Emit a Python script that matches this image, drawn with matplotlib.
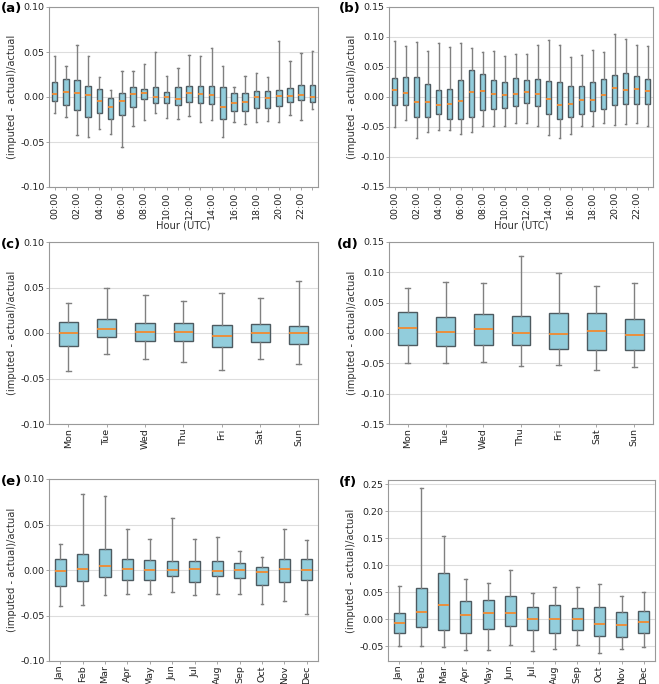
import numpy as np
import matplotlib.pyplot as plt

# box statistics: low whisker, q1, median, q3, high whisker
hours = ["%02d:00" % h for h in range(24)]
days = ["Mon", "Tue", "Wed", "Thu", "Fri", "Sat", "Sun"]
months = ["Jan", "Feb", "Mar", "Apr", "May", "Jun", "Jul", "Aug", "Sep", "Oct", "Nov", "Dec"]

a_lo = [-0.018, -0.022, -0.042, -0.044, -0.035, -0.0406, -0.056, -0.0325, -0.025, -0.0173, -0.023, -0.0247,
        -0.0207, -0.028, -0.026, -0.044, -0.028, -0.030, -0.028, -0.027, -0.028, -0.020, -0.025, -0.0137]
a_q1 = [-0.0044, -0.009, -0.014, -0.022, -0.0177, -0.024, -0.0196, -0.011, -0.0022, -0.0063, -0.0063, -0.0085,
        -0.005, -0.007, -0.008, -0.024, -0.016, -0.015, -0.012, -0.012, -0.0096, -0.005, -0.003, -0.006]
a_med = [0.003, 0.006, 0.004, 0.0026, -0.0044, -0.0107, -0.0044, 0.003, 0.004, 0.0004, 0.0, -0.0018,
         0.004, 0.003, 0.0018, -0.0107, -0.0063, -0.0055, 0.0004, -0.001, 0.001, 0.001, 0.0022, 0.0004]
a_q3 = [0.0166, 0.020, 0.019, 0.0125, 0.0085, -0.0015, 0.005, 0.0114, 0.009, 0.0107, 0.006, 0.011,
        0.0125, 0.012, 0.0125, 0.0114, 0.0048, 0.005, 0.007, 0.0066, 0.008, 0.010, 0.0137, 0.0137]
a_hi = [0.046, 0.034, 0.058, 0.046, 0.022, 0.008, 0.029, 0.029, 0.037, 0.050, 0.0236, 0.0325,
        0.047, 0.046, 0.0546, 0.035, 0.011, 0.0236, 0.027, 0.022, 0.062, 0.040, 0.049, 0.051]

b_lo = [-0.050, -0.038, -0.069, -0.059, -0.055, -0.055, -0.062, -0.058, -0.0476, -0.049, -0.0476, -0.044,
        -0.043, -0.0487, -0.063, -0.069, -0.062, -0.049, -0.049, -0.044, -0.047, -0.045, -0.0437, -0.049]
b_q1 = [-0.0138, -0.0127, -0.033, -0.034, -0.028, -0.037, -0.036, -0.0327, -0.022, -0.0205, -0.0177, -0.0144,
        -0.0094, -0.0155, -0.0277, -0.037, -0.033, -0.0277, -0.024, -0.0205, -0.0133, -0.012, -0.012, -0.0116]
b_med = [0.0116, 0.007, -0.0078, -0.0089, -0.0127, -0.012, -0.006, 0.0078, 0.0105, 0.005, 0.0039, 0.0055,
         0.0083, 0.0044, -0.0028, -0.0127, -0.011, -0.005, -0.005, 0.0033, 0.0144, 0.0116, 0.0133, 0.0105]
b_q3 = [0.032, 0.034, 0.034, 0.022, 0.012, 0.013, 0.028, 0.045, 0.039, 0.029, 0.0255, 0.031,
        0.028, 0.030, 0.027, 0.0255, 0.0177, 0.018, 0.0255, 0.030, 0.0365, 0.040, 0.0354, 0.030]
b_hi = [0.094, 0.085, 0.092, 0.077, 0.090, 0.084, 0.090, 0.082, 0.075, 0.077, 0.0687, 0.0714,
        0.072, 0.086, 0.095, 0.086, 0.066, 0.070, 0.0786, 0.075, 0.105, 0.096, 0.087, 0.085]

c_lo = [-0.042, -0.023, -0.0287, -0.032, -0.0408, -0.0287, -0.034]
c_q1 = [-0.0143, -0.0044, -0.0092, -0.0088, -0.0158, -0.0099, -0.0118]
c_med = [-0.0004, 0.0044, 0.0007, 0.0011, -0.0033, 0.0, -0.0004]
c_q3 = [0.0118, 0.0154, 0.0107, 0.0107, 0.0085, 0.0099, 0.0077]
c_hi = [0.0327, 0.050, 0.042, 0.0353, 0.044, 0.039, 0.0574]

d_lo = [-0.049, -0.049, -0.048, -0.055, -0.0527, -0.061, -0.056]
d_q1 = [-0.0198, -0.0214, -0.0198, -0.0198, -0.0258, -0.028, -0.028]
d_med = [0.0082, 0.0022, 0.006, -0.0005, -0.0022, 0.0027, -0.0038]
d_q3 = [0.0346, 0.027, 0.031, 0.028, 0.033, 0.0335, 0.023]
d_hi = [0.075, 0.084, 0.0824, 0.127, 0.099, 0.0775, 0.0824]

e_lo = [-0.040, -0.039, -0.028, -0.026, -0.026, -0.024, -0.028, -0.026, -0.026, -0.037, -0.0346, -0.0485]
e_q1 = [-0.0173, -0.0125, -0.0077, -0.0107, -0.0114, -0.0066, -0.0129, -0.007, -0.0092, -0.0162, -0.0129, -0.0107]
e_med = [-0.0011, 0.0015, 0.0048, 0.0015, 0.0, 0.0004, 0.0011, -0.0007, 0.0, -0.0026, 0.0007, 0.0004]
e_q3 = [0.0118, 0.018, 0.023, 0.0125, 0.0114, 0.0103, 0.0099, 0.0096, 0.0077, 0.0037, 0.0121, 0.0125]
e_hi = [0.0287, 0.084, 0.081, 0.0456, 0.0346, 0.0566, 0.0346, 0.0368, 0.0213, 0.0143, 0.0456, 0.0335]

f_lo = [-0.050, -0.049, -0.052, -0.0574, -0.0574, -0.0488, -0.059, -0.055, -0.0475, -0.0623, -0.0556, -0.052]
f_q1 = [-0.0253, -0.0148, -0.021, -0.0265, -0.0185, -0.0123, -0.021, -0.026, -0.0204, -0.0315, -0.0327, -0.026]
f_med = [-0.008, 0.013, 0.0253, 0.0068, 0.011, 0.0117, -0.0006, 0.0, -0.0006, -0.0093, -0.011, -0.0062]
f_q3 = [0.011, 0.0568, 0.0846, 0.0333, 0.0346, 0.042, 0.0222, 0.027, 0.0204, 0.0216, 0.013, 0.0142]
f_hi = [0.061, 0.2426, 0.155, 0.074, 0.0667, 0.0914, 0.048, 0.0605, 0.060, 0.0654, 0.0426, 0.0512]


def make_stats(lo, q1, med, q3, hi):
    return [dict(whislo=l, q1=a, med=m, q3=b, whishi=h, fliers=[])
            for l, a, m, b, h in zip(lo, q1, med, q3, hi)]


W, H = 659, 684
fig = plt.figure(figsize=(W / 100, H / 100), dpi=100)


def px_rect(x0, y0, x1, y1):
    # pixel box (top-left origin) -> figure fraction
    return [x0 / W, 1 - y1 / H, (x1 - x0) / W, (y1 - y0) / H]


panels = [
    ("(a)", (1, 2), px_rect(49, 7, 318, 187), make_stats(a_lo, a_q1, a_med, a_q3, a_hi), hours, (-0.10, 0.10), True),
    ("(b)", (339, 2), px_rect(389, 7, 653, 187), make_stats(b_lo, b_q1, b_med, b_q3, b_hi), hours, (-0.15, 0.15), True),
    ("(c)", (1, 238), px_rect(49, 242, 318, 424), make_stats(c_lo, c_q1, c_med, c_q3, c_hi), days, (-0.10, 0.10), False),
    ("(d)", (337, 238), px_rect(389, 242, 653, 424), make_stats(d_lo, d_q1, d_med, d_q3, d_hi), days, (-0.15, 0.15), False),
    ("(e)", (1, 475), px_rect(49, 479, 318, 661), make_stats(e_lo, e_q1, e_med, e_q3, e_hi), months, (-0.10, 0.10), False),
    ("(f)", (339, 476), px_rect(388, 480, 655, 661), make_stats(f_lo, f_q1, f_med, f_q3, f_hi), months, None, False),
]

box_face = "#92cddc"
edge = "#4d5a60"
whisk = "#808080"

for label, lpos, rect, stats, names, ylim, hourly in panels:
    ax = fig.add_axes(rect)
    ax.set_axisbelow(True)
    ax.yaxis.grid(True, color="#dddddd", lw=0.8)
    ax.bxp(stats, widths=0.5, capwidths=0.13, patch_artist=True, showfliers=False,
           boxprops=dict(facecolor=box_face, edgecolor=edge, lw=1.0),
           medianprops=dict(color="#f28a30", lw=1.3),
           whiskerprops=dict(color=whisk, lw=1.0),
           capprops=dict(color=whisk, lw=1.0))
    pos = np.arange(1, len(names) + 1)
    if hourly:
        ax.set_xticks(pos[::2])
        ax.set_xticklabels(names[::2], rotation=90)
        ax.set_xticks(pos, minor=True)
        ax.set_xlabel("Hour (UTC)", fontsize=7.2, color="#333333", labelpad=1)
    else:
        ax.set_xticks(pos)
        ax.set_xticklabels(names, rotation=90)
    ax.set_xlim(0.5, len(names) + 0.5)
    if ylim is not None:
        ax.set_ylim(*ylim)
        ax.set_yticks(np.arange(ylim[0], ylim[1] + 0.001, 0.05))
    else:
        ax.autoscale(axis="y")
        ax.margins(y=0.05)
        ax.set_yticks(np.arange(-0.05, 0.251, 0.05))
    ax.yaxis.set_major_formatter(plt.FormatStrFormatter("%.2f"))
    ax.set_ylabel("(imputed - actual)/actual", fontsize=7.2, color="#333333", labelpad=2)
    ax.tick_params(axis="both", which="both", length=2, width=0.6, color="#999999",
                   labelsize=6.8, labelcolor="#222222", pad=1.2)
    for s in ax.spines.values():
        s.set_color("#999999")
        s.set_linewidth(0.8)
    fig.text(lpos[0] / W, 1 - lpos[1] / H, label,
             fontsize=9.5, fontweight="bold", va="top", ha="left")

fig.savefig("out.png", dpi=100)
